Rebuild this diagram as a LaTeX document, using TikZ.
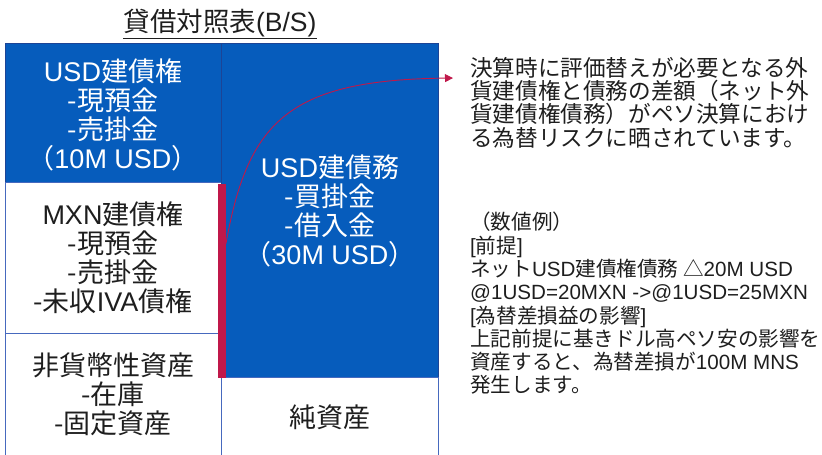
\documentclass[tikz,border=0pt]{standalone}
\usepackage{fontspec}
\setmainfont{Noto Sans CJK JP}
\newfontfamily\lat{Liberation Sans}
\usetikzlibrary{arrows.meta}
\definecolor{bsblue}{RGB}{6,92,188}
\definecolor{bsedge}{RGB}{28,68,150}
\definecolor{boxline}{RGB}{70,105,190}
\definecolor{bsred}{RGB}{192,24,74}
\definecolor{txt}{RGB}{30,30,30}
\begin{document}
\begin{tikzpicture}[x=1pt,y=-1pt,
  box/.style={line width=1pt, inner sep=0pt, anchor=north west},
  bluebox/.style={box, fill=bsblue, draw=bsedge},
  whitebox/.style={box, fill=white, draw=boxline},
  boxtext/.style={font=\fontsize{27}{29}\selectfont, align=center, inner sep=0pt},
  note/.style={font=\fontsize{22.6}{23.3}\selectfont, align=left, anchor=north west, inner sep=0pt, text=txt},
  note2/.style={note, font=\fontsize{20.6}{23.3}\selectfont}
]
\useasboundingbox (0,0) rectangle (822,455);
% boxes
\node[bluebox, minimum width=216pt, minimum height=139pt] (usdA) at (5,43) {};
\node[whitebox, minimum width=216pt, minimum height=151pt] (mxn) at (5,182) {};
\node[whitebox, minimum width=216pt, minimum height=140pt] (nonmon) at (5,333) {};
\node[bluebox, minimum width=217pt, minimum height=334pt] (usdL) at (221,43) {};
\node[whitebox, minimum width=217pt, minimum height=100pt] (net) at (221,377) {};
\node[box, fill=bsred, minimum width=8pt, minimum height=194pt] (redbar) at (217,183) {};
% title
\node[font=\fontsize{26.5}{29}\selectfont, inner sep=0pt, text=txt] (title) at (220,23) {貸借対照表{\lat (B/S)}};
\draw[line width=1pt, txt] ([yshift=-1pt]title.south west) -- ([yshift=-1pt]title.south east);
% box texts
\node[boxtext, text=white] (usdAt) at (113,115) {{\lat USD}建債権\\-現預金\\-売掛金\\（{\lat 10M USD}）};
\node[boxtext, text=txt] (mxnt) at (113,258) {{\lat MXN}建債権\\-現預金\\-売掛金\\-未収{\lat IVA}債権};
\node[boxtext, text=txt] (nonmont) at (113,394) {非貨幣性資産\\-在庫\\-固定資産};
\node[boxtext, text=white] (usdLt) at (330,211) {{\lat USD}建債務\\-買掛金\\-借入金\\（{\lat 30M USD}）};
\node[boxtext, text=txt] (nett) at (330,417) {純資産};
% notes
\node[note] (note1) at (470,57) {決算時に評価替えが必要となる外\\貨建債権と債務の差額（ネット外\\貨建債権債務）がペソ決算におけ\\る為替リスクに晒されています。};
\node[note2] (note2) at (470,212) {（数値例）\\{\lat [}前提{\lat ]}\\ネット{\lat USD}建債権債務 △{\lat 20M USD}\\{\lat @1USD=20MXN ->@1USD=25MXN}\\{\lat [}為替差損益の影響{\lat ]}\\上記前提に基きドル高ペソ安の影響を\\資産すると、為替差損が{\lat 100M MNS}\\発生します。};
% connector
\coordinate (cend) at (453,78);
\draw[bsred, line width=0.9pt, -{Triangle[length=8pt,width=8pt]}] ([yshift=37pt]redbar.east) .. controls (248,120) and (290,80) .. (cend);
\end{tikzpicture}
\end{document}
